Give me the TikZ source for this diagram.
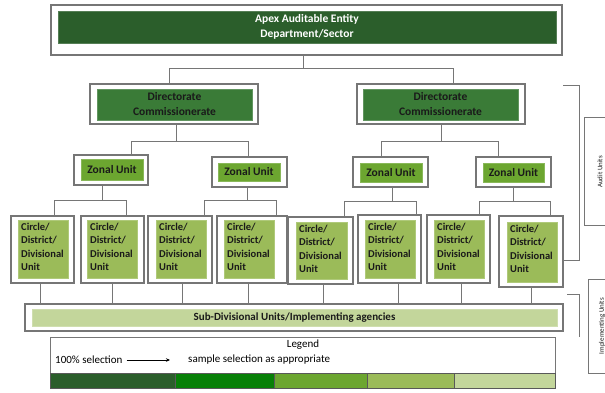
\documentclass[tikz,border=0pt]{standalone}
\usepackage{fontspec}
\setmainfont{Carlito}
\usetikzlibrary{fit,arrows.meta}

\definecolor{edge}{HTML}{767676}
\definecolor{gA}{HTML}{2B5E2B}
\definecolor{gB}{HTML}{3A7B37}
\definecolor{gC}{HTML}{6CA630}
\definecolor{gD}{HTML}{9BBB59}
\definecolor{gE}{HTML}{C3D69B}
\definecolor{gL}{HTML}{078007}
\definecolor{ink}{HTML}{1A1A1A}

\tikzset{
  outerbox/.style={draw=edge, line width=1.1pt, fill=white, inner sep=0pt, outer sep=0pt},
  fillbox/.style={fill=#1, draw=#1!80!white, line width=0.5pt, inner sep=0pt, outer sep=0pt},
  barseg/.style={fill=#1, draw=black!65, line width=0.8pt, inner sep=0pt, outer sep=0pt},
  sidebox/.style={draw=edge, line width=0.9pt, fill=white, inner sep=0pt, outer sep=0pt},
  conn/.style={draw=edge, line width=0.9pt},
  toptext/.style={font=\bfseries\fontsize{11.5}{15}\selectfont, text=white, align=center, inner sep=0pt},
  dirtext/.style={font=\bfseries\fontsize{11.5}{15}\selectfont, text=ink, align=center, inner sep=0pt},
  zutext/.style={font=\bfseries\fontsize{11.5}{14}\selectfont, text=ink, inner sep=0pt},
  cutext/.style={font=\bfseries\fontsize{10.5}{13.4}\selectfont, text=ink, align=left,
    anchor=north west, inner xsep=3pt, inner ysep=3pt},
  subtext/.style={font=\bfseries\fontsize{11}{13}\selectfont, text=ink, inner sep=0pt},
  legtext/.style={font=\fontsize{11}{13}\selectfont, text=black, inner sep=0pt},
  sidetext/.style={font=\fontsize{7}{8}\selectfont, text=ink, rotate=90, inner sep=0pt},
  legarrow/.style={draw=black, line width=0.7pt, -{Stealth[length=4pt,width=3.5pt]}},
}

\begin{document}
\begin{tikzpicture}[x=1pt,y=-1pt]
\useasboundingbox (0,0) rectangle (605,392);
\clip (0,0) rectangle (605,392);

% ---- apex entity
\node[outerbox, fit={(51,5) (562,55)}] (top) {};
\node[fillbox=gA, fit={(58,11) (556,43)}] (top-f) {};
\node[toptext] (top-t) at (top-f.center) {Apex Auditable Entity\\Department/Sector};

% ---- directorates
\node[outerbox, fit={(90,84) (258,124)}] (dirL) {};
\node[fillbox=gB, fit={(97,89) (252,120)}] (dirL-f) {};
\node[dirtext] (dirL-t) at (dirL-f.center) {Directorate\\Commissionerate};
\node[outerbox, fit={(357,84) (525,124)}] (dirR) {};
\node[fillbox=gB, fit={(363,89) (518,120)}] (dirR-f) {};
\node[dirtext] (dirR-t) at (dirR-f.center) {Directorate\\Commissionerate};

% ---- zonal units
\node[outerbox, fit={(74,155) (148,185)}] (zu1) {};
\node[fillbox=gC, fit={(81,159) (143,180)}] (zu1-f) {};
\node[zutext] (zu1-t) at (zu1-f.center) {Zonal Unit};
\node[outerbox, fit={(212,157) (287,187)}] (zu2) {};
\node[fillbox=gC, fit={(218,163) (280,181)}] (zu2-f) {};
\node[zutext] (zu2-t) at (zu2-f.center) {Zonal Unit};
\node[outerbox, fit={(353,157) (428,187)}] (zu3) {};
\node[fillbox=gC, fit={(360,163) (422,182)}] (zu3-f) {};
\node[zutext] (zu3-t) at (zu3-f.center) {Zonal Unit};
\node[outerbox, fit={(476,157) (551,187)}] (zu4) {};
\node[fillbox=gC, fit={(483,163) (544,182)}] (zu4-f) {};
\node[zutext] (zu4-t) at (zu4-f.center) {Zonal Unit};

% ---- circle / district / divisional units
\node[outerbox, fit={(11,216) (74,283)}] (cu1) {};
\node[fillbox=gD, fit={(18,220) (68,278)}] (cu1-f) {};
\node[cutext] (cu1-t) at (cu1-f.north west) {Circle/\\District/\\Divisional\\Unit};
\node[outerbox, fit={(81,216) (144,283)}] (cu2) {};
\node[fillbox=gD, fit={(87,220) (137,278)}] (cu2-f) {};
\node[cutext] (cu2-t) at (cu2-f.north west) {Circle/\\District/\\Divisional\\Unit};
\node[outerbox, fit={(148,216) (212,283)}] (cu3) {};
\node[fillbox=gD, fit={(156,220) (206,278)}] (cu3-f) {};
\node[cutext] (cu3-t) at (cu3-f.north west) {Circle/\\District/\\Divisional\\Unit};
\node[outerbox, fit={(217,216) (287,283)}] (cu4) {};
\node[fillbox=gD, fit={(224,220) (274,278)}] (cu4-f) {};
\node[cutext] (cu4-t) at (cu4-f.north west) {Circle/\\District/\\Divisional\\Unit};
\node[outerbox, fit={(288,217) (353,284)}] (cu5) {};
\node[fillbox=gD, fit={(296,222) (347,279)}] (cu5-f) {};
\node[cutext] (cu5-t) at (cu5-f.north west) {Circle/\\District/\\Divisional\\Unit};
\node[outerbox, fit={(358,215) (421,283)}] (cu6) {};
\node[fillbox=gD, fit={(365,220) (415,278)}] (cu6-f) {};
\node[cutext] (cu6-t) at (cu6-f.north west) {Circle/\\District/\\Divisional\\Unit};
\node[outerbox, fit={(427,215) (490,283)}] (cu7) {};
\node[fillbox=gD, fit={(434,220) (484,278)}] (cu7-f) {};
\node[cutext] (cu7-t) at (cu7-f.north west) {Circle/\\District/\\Divisional\\Unit};
\node[outerbox, fit={(499,216) (563,287)}] (cu8) {};
\node[fillbox=gD, fit={(507,222) (557,282)}] (cu8-f) {};
\node[cutext] (cu8-t) at (cu8-f.north west) {Circle/\\District/\\Divisional\\Unit};

% ---- sub-divisional units
\node[outerbox, fit={(25,304) (563,331)}] (sub) {};
\node[fillbox=gE, fit={(32,309) (557,326)}] (sub-f) {};
\node[subtext] (sub-t) at (sub-f.center) {Sub-Divisional Units/Implementing agencies};

% ---- connectors: apex to directorates
\coordinate (b0) at (303,68);
\coordinate (b0l) at (169,68);
\coordinate (b0r) at (453,68);
\draw[conn] (top.south -| b0) -- (b0);
\draw[conn] (dirL.north -| b0l) -- (b0l) -- (b0r) -- (dirR.north -| b0r);

% directorates to zonal units
\coordinate (b1) at (176,141);
\coordinate (b1l) at (131,141);
\coordinate (b1r) at (248,141);
\draw[conn] (dirL.south -| b1) -- (b1);
\draw[conn] (zu1.north -| b1l) -- (b1l) -- (b1r) -- (zu2.north -| b1r);
\coordinate (b2) at (441,141);
\coordinate (b2l) at (381,141);
\coordinate (b2r) at (498,141);
\draw[conn] (dirR.south -| b2) -- (b2);
\draw[conn] (zu3.north -| b2l) -- (b2l) -- (b2r) -- (zu4.north -| b2r);

% zonal units to circle units
\coordinate (b3) at (102,200);
\coordinate (b3l) at (54,200);
\coordinate (b3r) at (126,200);
\draw[conn] (zu1.south -| b3) -- (b3);
\draw[conn] (cu1.north -| b3l) -- (b3l) -- (b3r) -- (cu2.north -| b3r);
\coordinate (b4) at (247,200);
\coordinate (b4l) at (204,200);
\coordinate (b4r) at (276,200);
\draw[conn] (zu2.south -| b4) -- (b4);
\draw[conn] (cu3.north -| b4l) -- (b4l) -- (b4r) -- (cu4.north -| b4r);
\coordinate (b5) at (392,201);
\coordinate (b5l) at (344,201);
\coordinate (b5r) at (416,201);
\draw[conn] (zu3.south -| b5) -- (b5);
\draw[conn] (cu5.north -| b5l) -- (b5l) -- (b5r) -- (cu6.north -| b5r);
\coordinate (b6) at (513,201);
\coordinate (b6l) at (479,201);
\coordinate (b6r) at (550,201);
\draw[conn] (zu4.south -| b6) -- (b6);
\draw[conn] (cu7.north -| b6l) -- (b6l) -- (b6r) -- (cu8.north -| b6r);

% circle units down to sub-divisional units
\coordinate (d1) at (40,304);
\coordinate (d2) at (112,304);
\coordinate (d3) at (182,304);
\coordinate (d4) at (248,304);
\coordinate (d5) at (323,304);
\coordinate (d6) at (398,304);
\coordinate (d7) at (461,304);
\coordinate (d8) at (531,304);
\draw[conn] (cu1.south -| d1) -- (sub.north -| d1);
\draw[conn] (cu2.south -| d2) -- (sub.north -| d2);
\draw[conn] (cu3.south -| d3) -- (sub.north -| d3);
\draw[conn] (cu4.south -| d4) -- (sub.north -| d4);
\draw[conn] (cu5.south -| d5) -- (sub.north -| d5);
\draw[conn] (cu6.south -| d6) -- (sub.north -| d6);
\draw[conn] (cu7.south -| d7) -- (sub.north -| d7);
\draw[conn] (cu8.south -| d8) -- (sub.north -| d8);

% ---- side brackets and their labels
\node[sidebox, fit={(584,117) (620,225)}] (au) {};
\node[sidetext] (au-t) at (600,172) {Audit Units};
\node[sidebox, fit={(588,279) (620,373)}] (iu) {};
\node[sidetext] (iu-t) at (602,326) {Implementing Units};
\coordinate (k1a) at (563,85);
\coordinate (k1b) at (579,85);
\coordinate (k1c) at (579,260);
\draw[conn] (k1a) -- (k1b) -- (k1c) -- (cu8.east |- k1c);
\coordinate (k2a) at (567,294);
\coordinate (k2b) at (579,294);
\coordinate (k2c) at (579,337);
\draw[conn] (k2a) -- (k2b) -- (k2c);

% ---- legend
\node[outerbox, line width=1pt, fit={(50,337) (555,388)}] (leg) {};
\node[barseg=gA, fit={(50,373) (175,388)}] (s1) {};
\node[barseg=gL, fit={(175,373) (274,388)}] (s2) {};
\node[barseg=gC, fit={(274,373) (367,388)}] (s3) {};
\node[barseg=gD, fit={(367,373) (454,388)}] (s4) {};
\node[barseg=gE, fit={(454,373) (555,388)}] (s5) {};
\node[legtext] (leg-t) at (303,345) {Legend};
\node[legtext, anchor=west] (from) at (55,360) {100\% selection};
\node[legtext, anchor=west] (to) at (188,360) {sample selection as appropriate};
\draw[legarrow] ([xshift=4pt]from.east) -- ([xshift=-18pt]to.west);
\end{tikzpicture}
\end{document}
